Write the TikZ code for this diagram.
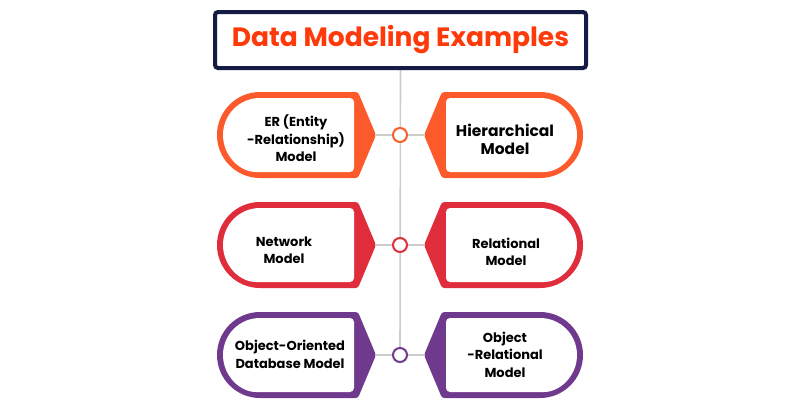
\documentclass[tikz,border=0pt]{standalone}
\usepackage{fontspec}
\setmainfont{Poppins}
\usetikzlibrary{backgrounds}
\definecolor{navy}{HTML}{161B45}
\definecolor{ttl}{HTML}{FF3A0A}
\definecolor{cA}{HTML}{FD5A2B}
\definecolor{cB}{HTML}{E02D3C}
\definecolor{cC}{HTML}{6F3A8D}
\definecolor{stem}{HTML}{CCCCCC}
\newcommand\leftshape[2]{%
  \fill[#2] (260,#1-43) [rounded corners=2.5pt] -- (358,#1-43) -- (376,#1) -- (358,#1+43) [sharp corners] -- (260,#1+43)
     arc[start angle=90,end angle=270,radius=43] -- cycle;
  \fill[white] (260,#1-37) [rounded corners=4pt] -- (354,#1-37) -- (354,#1+37) -- (260,#1+37) [sharp corners]
     arc[start angle=90,end angle=270,radius=37] -- cycle;
}
\newcommand\rightshape[2]{%
  \fill[#2] (540,#1-43) [rounded corners=2.5pt] -- (442,#1-43) -- (424,#1) -- (442,#1+43) [sharp corners] -- (540,#1+43)
     arc[start angle=90,end angle=-90,radius=43] -- cycle;
  \fill[white] (540,#1-37) [rounded corners=4pt] -- (446,#1-37) -- (446,#1+37) -- (540,#1+37) [sharp corners]
     arc[start angle=90,end angle=-90,radius=37] -- cycle;
}
\begin{document}
\begin{tikzpicture}[x=1pt,y=-1pt,
  circ/.style={circle,fill=white,line width=2pt,minimum size=14pt,inner sep=0pt},
  conn/.style={draw=stem,line width=1.6pt},
  txt/.style={font=\bfseries\fontsize{13}{17.5}\selectfont,align=center,inner sep=0pt,text=black},
  bigtxt/.style={font=\bfseries\fontsize{15.5}{18}\selectfont,align=center,inner sep=0pt,text=black},
  titlebox/.style={draw=navy,line width=4pt,rounded corners=3pt,minimum width=371pt,minimum height=56pt,inner sep=0pt,
    text=ttl,font=\bfseries\fontsize{26.5}{30}\selectfont}]
\useasboundingbox (0,0) rectangle (800,400);
% title
\node[titlebox] (title) at (400.5,40) {Data Modeling Examples};
% box shapes
\leftshape{135}{cA}
\rightshape{135}{cA}
\leftshape{245}{cB}
\rightshape{245}{cB}
\leftshape{355}{cC}
\rightshape{355}{cC}
% tips
\coordinate (l1) at (376,135);
\coordinate (r1) at (424,135);
\coordinate (l2) at (376,245);
\coordinate (r2) at (424,245);
\coordinate (l3) at (376,355);
\coordinate (r3) at (424,355);
% circles
\node[circ,draw=cA] (c1) at (400,135) {};
\node[circ,draw=cB] (c2) at (400,245) {};
\node[circ,draw=cC] (c3) at (400,355) {};
% connectors
\begin{scope}[on background layer]
  \fill[white] (0,0) rectangle (800,400);
  \draw[conn] (title.south) -- (c3.center);
  \draw[conn] (c1) -- (l1);
  \draw[conn] (c1) -- (r1);
  \draw[conn] (c2) -- (l2);
  \draw[conn] (c2) -- (r2);
  \draw[conn] (c3) -- (l3);
  \draw[conn] (c3) -- (r3);
\end{scope}
% texts
\node[txt] (er) at (296,138.5) {ER (Entity\\-Relationship)\\Model};
\node[bigtxt] (hier) at (505,139) {Hierarchical\\Model};
\node[txt] (net) at (284,250) {Network\\Model};
\node[txt] (rel) at (506,252) {Relational\\Model};
\node[txt] (oodb) at (290,354.5) {Object-Oriented\\Database Model};
\node[txt] (orm) at (505,354.5) {Object\\-Relational\\Model};
\end{tikzpicture}
\end{document}
